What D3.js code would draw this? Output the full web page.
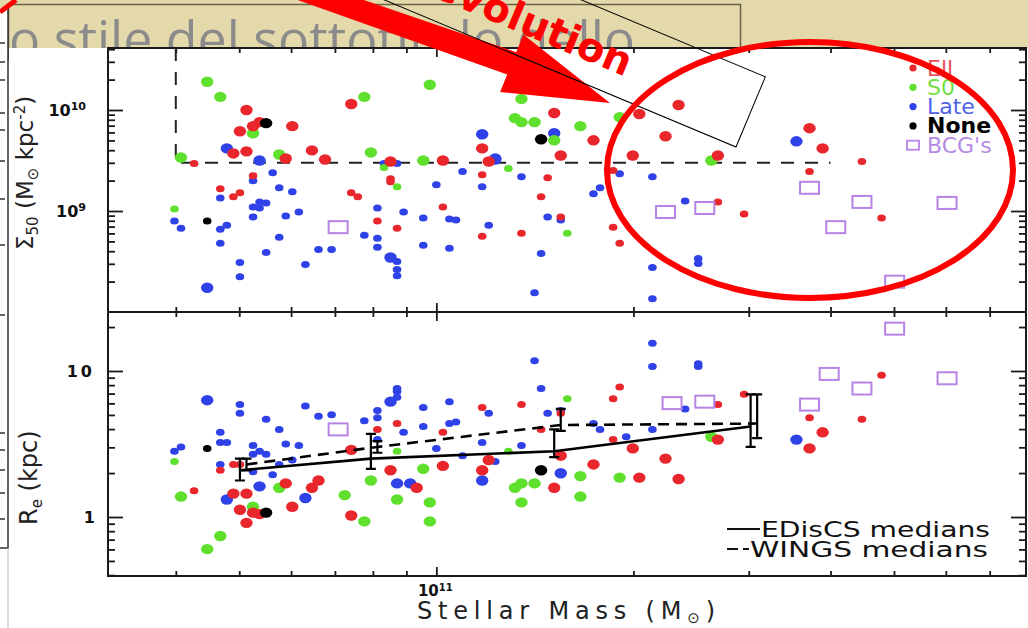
<!DOCTYPE html>
<html>
<head>
<meta charset="utf-8">
<script src="https://cdn.jsdelivr.net/npm/d3@7"></script>
<style>
body { margin: 0; background: #fff; }
svg { display: block; }
text { font-family: "DejaVu Sans", sans-serif; }
</style>
</head>
<body>
<div id="chart-area"></div>
<script>
// values, as log10: [log M*, log value, dense-sample flag]
var sigmaEll = [[10.71,10.00,1],[10.73,9.88,1],[10.72,9.84,1],[10.70,9.79,1],[10.78,9.84,1],[10.69,9.57,1],[10.71,9.59,1],
    [10.77,9.52,1],[10.81,9.60,1],[10.83,9.51,1],[10.93,9.49,1],[11.01,9.50,1],[11.08,9.49,1],[10.87,10.06,1],[11.18,9.97,1],
    [11.07,9.62,1],[11.24,9.70,1],[11.19,9.55,1],[11.31,9.96,1],[11.37,10.05,1],[11.35,9.74,1],[11.30,9.55,1],[11.43,9.55,1],
    [11.57,9.82,1],[11.59,9.62,1],
    [10.63,9.47,0],[11.65,9.49,0],[10.72,9.35,0],[10.67,9.22,0],[10.69,9.14,0],[10.70,9.18,0],[10.87,9.18,0],[10.88,9.14,0],
    [10.91,8.90,0],[10.94,8.83,0],[10.93,9.29,0],[10.93,9.32,0],[11.01,9.04,0],[11.07,8.75,0],[11.07,9.36,0],[11.17,9.33,0],
    [11.27,9.40,0],[11.16,9.14,0],[11.19,8.94,0],[11.13,8.78,0],[11.27,8.84,0],[11.28,8.68,0],[11.43,9.09,0],[11.47,8.97,0],
    [11.57,9.39,0],[11.68,8.93,0]];
var sigmaS0 = [[10.65,10.28,1],[10.67,10.13,1],[10.72,9.77,1],[10.76,9.56,1],[10.61,9.53,1],[10.90,9.58,1],[10.98,9.50,1],
    [10.89,10.13,1],[11.13,10.11,1],[11.12,9.92,1],[11.13,9.88,1],[11.15,9.88,1],[11.22,9.84,1],[11.18,9.70,1],[11.28,9.93,1],
    [11.42,9.50,1],[10.99,10.25,1],
    [10.92,9.43,0],[10.94,9.24,0],[10.60,9.02,0],[11.11,9.42,0],[11.20,8.78,0]];
var sigmaLate = [[10.68,9.62,1],[10.73,9.50,1],[11.09,9.52,1],[11.07,9.76,1],[11.18,9.77,1],[11.09,9.51,1],[11.55,9.69,1],
    [10.65,8.24,1],[10.93,8.54,1],
    [10.92,9.47,0],[10.94,9.47,0],[10.72,9.30,0],[10.75,9.38,0],[10.67,9.13,0],[10.76,9.23,0],[10.78,9.19,0],[10.72,9.04,0],
    [10.73,9.09,0],[10.74,9.08,0],[10.73,9.03,0],[10.72,8.94,0],[10.77,8.95,0],[10.79,8.99,0],[10.60,8.90,0],[10.61,8.83,0],
    [10.67,8.82,0],[10.68,8.86,0],[10.67,8.68,0],[10.76,8.74,0],[10.74,8.59,0],[10.70,8.49,0],[10.70,8.35,0],[10.91,9.03,0],
    [10.89,8.76,0],[10.91,8.73,0],[10.91,8.64,0],[10.82,8.62,0],[10.84,8.62,0],[10.80,8.47,0],[10.94,8.50,0],[10.94,8.42,0],
    [10.94,8.36,0],[11.00,9.26,0],[10.95,8.99,0],[10.98,8.93,0],[11.02,8.92,0],[11.03,8.91,0],[10.98,8.66,0],[11.02,8.63,0],
    [11.04,9.39,0],[11.07,9.24,0],[11.08,8.86,0],[11.13,9.34,0],[11.28,9.37,0],[11.33,9.34,0],[11.25,9.23,0],[11.24,9.17,0],
    [11.19,8.91,0],[11.17,8.94,0],[11.16,8.58,0],[11.38,9.10,0],[11.40,8.53,0],[11.40,8.48,0],[11.33,8.44,0],[11.15,8.19,0],
    [11.33,8.13,0]];
var sigmaNone = [[10.74,9.87,1],[11.16,9.71,1],[10.65,8.90,0]];
var sigmaBCG = [[10.85,8.84],[11.35,8.99],[11.41,9.03],[11.57,9.23],[11.65,9.09],[11.78,9.08],[11.61,8.84],[11.70,8.30]];

var reEll = [[10.69,0.36,0],[10.67,0.32,0],[10.70,0.36,0],[10.94,0.64,0],[10.91,0.60,0],[11.01,0.58,0],[11.07,0.75,0],
    [10.63,0.18,0],[11.28,0.89,0],[11.27,0.81,0],[11.13,0.77,0],[11.47,0.84,0],[11.43,0.77,0],[11.19,0.71,0],[11.16,0.60,0],
    [11.27,0.53,0],[11.68,0.97,0],[11.57,0.68,0],[11.65,0.67,0],
    [10.69,0.16,1],[10.71,0.16,1],[10.77,0.23,1],[10.81,0.20,1],[10.82,0.25,1],[10.70,0.05,1],[10.72,0.03,1],[10.73,0.02,1],
    [10.71,-0.04,1],[10.78,0.07,1],[10.87,0.01,1],[10.87,0.46,1],[10.97,0.20,1],[10.93,0.32,1],[11.01,0.35,1],[11.07,0.32,1],
    [11.08,0.39,1],[11.30,0.47,1],[11.35,0.40,1],[11.43,0.53,1],[11.19,0.42,1],[11.24,0.36,1],[11.31,0.27,1],[11.37,0.26,1],
    [11.18,0.20,1],[11.59,0.58,1],[11.57,0.47,1]];
var reS0 = [[10.60,0.38,0],[10.94,0.45,0],[11.20,0.81,0],[11.11,0.45,0],
    [10.61,0.14,1],[10.76,0.20,1],[10.86,0.15,1],[10.72,0.07,1],[10.67,-0.13,1],[10.65,-0.22,1],[10.89,-0.03,1],[10.90,0.25,1],
    [10.98,0.33,1],[10.94,0.12,1],[10.99,0.10,1],[10.99,-0.03,1],[11.42,0.55,1],[11.28,0.27,1],[11.22,0.28,1],[11.15,0.23,1],
    [11.13,0.23,1],[11.12,0.20,1],[11.13,0.10,1],[11.22,0.14,1]];
var reLate = [[10.70,0.77,0],[10.70,0.71,0],[10.74,0.67,0],[10.76,0.60,0],[10.67,0.58,0],[10.67,0.51,0],[10.68,0.51,0],
    [10.61,0.48,0],[10.60,0.45,0],[10.72,0.49,0],[10.72,0.43,0],[10.73,0.45,0],[10.74,0.43,0],[10.77,0.50,0],[10.79,0.49,0],
    [10.78,0.39,0],[10.67,0.36,0],[10.72,0.31,0],[10.75,0.29,0],[10.76,0.36,0],[10.80,0.76,0],[10.82,0.69,0],[10.84,0.70,0],
    [10.89,0.66,0],[10.91,0.68,0],[10.91,0.73,0],[10.94,0.82,0],[10.94,0.86,0],[10.94,0.88,0],[10.95,0.58,0],[10.91,0.53,0],
    [10.98,0.75,0],[10.98,0.62,0],[11.02,0.79,0],[11.02,0.64,0],[11.03,0.65,0],[11.00,0.47,0],[11.08,0.71,0],[11.07,0.51,0],
    [11.04,0.42,0],[11.09,0.38,0],[11.33,1.19,0],[11.33,1.03,0],[11.15,1.07,0],[11.40,1.05,0],[11.40,1.03,0],[11.16,0.88,0],
    [11.19,0.73,0],[11.17,0.71,0],[11.38,0.74,0],[11.24,0.64,0],[11.25,0.60,0],[11.33,0.60,0],[11.29,0.55,0],[11.13,0.49,0],
    [10.65,0.80,1],[10.93,0.79,1],[10.68,0.12,1],[10.73,0.21,1],[10.80,0.13,1],[10.94,0.23,1],[10.96,0.23,1],[11.07,0.25,1],
    [11.19,0.30,1],[11.55,0.53,1]];
var reNone = [[10.65,0.47,0],[10.74,0.03,1],[11.16,0.32,1]];
var reBCG = [[10.85,0.60],[11.36,0.78],[11.41,0.79],[11.57,0.77],[11.60,0.98],[11.70,1.29],[11.78,0.95],[11.65,0.88]];

// medians: [log M*, log Re, low, high]
var medEDisCS = [[10.70,0.32,0.25,0.40],[10.90,0.40,0.33,0.57],[11.18,0.45,0.41,0.60],[11.48,0.62,0.48,0.84]];
var medWINGS = [[10.71,0.36,0.32,0.40],[10.91,0.48,0.44,0.52],[11.19,0.63,0.59,0.74],[11.49,0.64,0.54,0.84]];

// selection box of the top panel
var boxMass = [4e10, 4e11], boxSigma = 3e9;

var massMinor = [4e10,5e10,6e10,7e10,8e10,9e10,2e11,3e11,4e11,5e11,6e11,7e11], massMajor = [1e11];
var sigmaMinor = [2e8,3e8,4e8,5e8,6e8,7e8,8e8,9e8,2e9,3e9,4e9,5e9,6e9,7e9,8e9,9e9,2e10,3e10,4e10], sigmaMajor = [1e9,1e10];
var reMinor = [0.4,0.5,0.6,0.7,0.8,0.9,2,3,4,5,6,7,8,9,20], reMajor = [1,10];
var sigmaLabels = [[1e9,"9"],[1e10,"10"]], reLabels = [[1,"1"],[10,"10"]], massLabels = [[1e11,"11"]];

var legendTop = [["Ell","E"],["S0","S0"],["Late","L"],["None","N"],["BCG's","B"]];
var legendBottom = ["EDisCS medians", "WINGS medians"];

var colors = {E: "#e8262c", S0: "#5ee02c", L: "#2f42e8", N: "#000000", B: "#b783e6"};
var textColors = {E: "#e6505a", S0: "#72e040", L: "#5062e6", N: "#000000", B: "#b58ae6"};

var width = 1028, height = 628;
var left = 108, right = 1026, top1 = 48, mid = 312, bottom = 576;
var p10 = function(v) { return Math.pow(10, v); };

var svg = d3.select("#chart-area").append("svg")
    .attr("width", width)
    .attr("height", height);

var x = d3.scaleLog().domain([p10(10.4985), p10(11.9006)]).range([left, right]);
var ySigma = d3.scaleLog().domain([1e8, p10(10.614)]).range([mid, top1]);
var yRe = d3.scaleLog().domain([p10(-0.404), p10(1.404)]).range([bottom, mid]);

// slide background and title box
svg.append("rect").attr("width", width).attr("height", 48).attr("fill", "#e3d9ab");
svg.append("text")
    .attr("x", 9).attr("y", 58)
    .style("font-family", "'Open Sans', sans-serif")
    .style("font-size", "51px")
    .attr("textLength", 626).attr("lengthAdjust", "spacingAndGlyphs")
    .attr("fill", "#8b8b8b")
    .text("o stile del sottotitolo dello");
svg.append("path")
    .attr("d", "M8.5,60 V4.5 H740.5 V48")
    .attr("fill", "none").attr("stroke", "#6b6245").attr("stroke-width", 1.5);

// figure behind, on the left edge
svg.append("rect").attr("x", 0).attr("y", 8).attr("width", 8).attr("height", 620).attr("fill", "#fff");
svg.append("path").attr("d", "M8,8 V548 H0").attr("fill", "none").attr("stroke", "#333").attr("stroke-width", 1.5);
svg.append("path").attr("d", "M8,548 V628").attr("fill", "none").attr("stroke", "#bbb").attr("stroke-width", 1);
[43,62,80,113,130,161,199,245,315,433,450,470,493,519].forEach(function(t) {
    svg.append("line").attr("x1", 0).attr("x2", 5).attr("y1", t).attr("y2", t).attr("stroke", "#333").attr("stroke-width", 1.5);
});

// the figure
svg.append("rect").attr("x", 9).attr("y", 48).attr("width", width - 9).attr("height", height - 48).attr("fill", "#fff");

var plot = svg.append("g");

function panelAxes(yScale, y0, y1, yMinor, yMajor) {
    var ax = plot.append("g").attr("class", "axes");
    var bits = [
        [d3.axisBottom(x).tickValues(massMinor).tickSize(-5), "translate(0," + y1 + ")"],
        [d3.axisBottom(x).tickValues(massMajor).tickSize(-9), "translate(0," + y1 + ")"],
        [d3.axisTop(x).tickValues(massMinor).tickSize(-5), "translate(0," + y0 + ")"],
        [d3.axisTop(x).tickValues(massMajor).tickSize(-9), "translate(0," + y0 + ")"],
        [d3.axisLeft(yScale).tickValues(yMinor).tickSize(-7), "translate(" + left + ",0)"],
        [d3.axisLeft(yScale).tickValues(yMajor).tickSize(-15), "translate(" + left + ",0)"],
        [d3.axisRight(yScale).tickValues(yMinor).tickSize(-7), "translate(" + right + ",0)"],
        [d3.axisRight(yScale).tickValues(yMajor).tickSize(-15), "translate(" + right + ",0)"]
    ];
    bits.forEach(function(b) {
        ax.append("g").attr("transform", b[1])
            .call(b[0].tickFormat("").tickSizeOuter(0))
            .call(function(g) { g.select(".domain").remove(); })
            .selectAll("line").attr("stroke", "#1a1a1a").attr("stroke-width", 1.8);
    });
    ax.append("rect")
        .attr("x", left).attr("y", y0)
        .attr("width", right - left).attr("height", y1 - y0)
        .attr("fill", "none").attr("stroke", "#1a1a1a").attr("stroke-width", 2);
}

function yLabels(yScale, labels) {
    labels.forEach(function(l) {
        var t = plot.append("text")
            .attr("x", l[0] > 100 ? 86 : 95)
            .attr("y", yScale(l[0]) + 6)
            .attr("text-anchor", "end")
            .style("font-size", "16px")
            .style("font-weight", "bold")
            .attr("fill", "#111");
        if (l[0] > 100) {
            t.append("tspan").text("10");
            t.append("tspan").attr("dy", -6).style("font-size", "11px").text(l[1]);
        } else {
            t.attr("letter-spacing", l[1].length > 1 ? 3 : 0).text(l[1]);
        }
    });
}

function dots(data, yScale, type) {
    plot.append("g").selectAll("ellipse")
        .data(data)
        .join("ellipse")
        .attr("cx", function(d) { return x(p10(d[0])); })
        .attr("cy", function(d) { return yScale(p10(d[1])); })
        .attr("rx", function(d) { return d[2] ? 6.2 : 4.3; })
        .attr("ry", function(d) { return d[2] ? 5.2 : 3.5; })
        .attr("fill", colors[type]);
}

function bcg(data, yScale) {
    plot.append("g").selectAll("rect")
        .data(data)
        .join("rect")
        .attr("x", function(d) { return x(p10(d[0])) - 9.5; })
        .attr("y", function(d) { return yScale(p10(d[1])) - 6; })
        .attr("width", 19).attr("height", 12)
        .attr("fill", "none")
        .attr("stroke", colors.B).attr("stroke-width", 2);
}

// top panel
panelAxes(ySigma, top1, mid, sigmaMinor, sigmaMajor);
yLabels(ySigma, sigmaLabels);
plot.append("path")
    .attr("d", d3.line()([[x(boxMass[0]), top1], [x(boxMass[0]), ySigma(boxSigma)], [x(boxMass[1]), ySigma(boxSigma)]]))
    .attr("fill", "none").attr("stroke", "#222").attr("stroke-width", 2).attr("stroke-dasharray", "13,11");
dots(sigmaLate, ySigma, "L");
dots(sigmaS0, ySigma, "S0");
dots(sigmaEll, ySigma, "E");
dots(sigmaNone, ySigma, "N");
bcg(sigmaBCG, ySigma);

// bottom panel
panelAxes(yRe, mid, bottom, reMinor, reMajor);
yLabels(yRe, reLabels);
dots(reLate, yRe, "L");
dots(reS0, yRe, "S0");
dots(reEll, yRe, "E");
dots(reNone, yRe, "N");
bcg(reBCG, yRe);

function medians(data, dash) {
    var g = plot.append("g");
    g.append("path")
        .attr("d", d3.line()(data.map(function(d) { return [x(p10(d[0])), yRe(p10(d[1]))]; })))
        .attr("fill", "none").attr("stroke", "#000").attr("stroke-width", 2.6)
        .attr("stroke-dasharray", dash);
    data.forEach(function(d) {
        var cx = x(p10(d[0])), lo = yRe(p10(d[2])), hi = yRe(p10(d[3]));
        g.append("path")
            .attr("d", "M" + (cx - 5) + "," + hi + "H" + (cx + 5) + "M" + cx + "," + hi + "V" + lo + "M" + (cx - 5) + "," + lo + "H" + (cx + 5))
            .attr("fill", "none").attr("stroke", "#000").attr("stroke-width", 2.2);
    });
}
medians(medEDisCS, null);
medians(medWINGS, "11,7");

// x labels
massLabels.forEach(function(l) {
    var t = plot.append("text").attr("x", x(l[0]) - 1).attr("y", 596).attr("text-anchor", "middle")
        .style("font-size", "15px").style("font-weight", "bold").attr("fill", "#111");
    t.append("tspan").text("10");
    t.append("tspan").attr("dy", -5).style("font-size", "10px").text(l[1]);
});
var xl = plot.append("text").attr("x", 417).attr("y", 619)
    .attr("textLength", 298).attr("lengthAdjust", "spacing")
    .style("font-size", "24px").attr("fill", "#222");
xl.append("tspan").text("Stellar Mass (M");
xl.append("tspan").attr("dy", 4).style("font-size", "15px").text("\u2299");
xl.append("tspan").attr("dy", -4).text(")");

// y titles
var ys = plot.append("text").attr("transform", "translate(33,250) rotate(-90)")
    .style("font-size", "23px").attr("fill", "#222");
ys.append("tspan").text("\u03A3");
ys.append("tspan").attr("dy", 5).style("font-size", "15px").text("50");
ys.append("tspan").attr("dy", -5).text(" (M");
ys.append("tspan").attr("dy", 5).style("font-size", "15px").text("\u2299");
ys.append("tspan").attr("dy", -5).text(" kpc");
ys.append("tspan").attr("dy", -8).style("font-size", "15px").text("-2");
ys.append("tspan").attr("dy", 8).text(")");

var yr = plot.append("text").attr("transform", "translate(37,525) rotate(-90)")
    .style("font-size", "24px").attr("fill", "#222");
yr.append("tspan").text("R");
yr.append("tspan").attr("dy", 5).style("font-size", "15px").text("e");
yr.append("tspan").attr("dy", -5).text(" (kpc)");

// legends
legendTop.forEach(function(l, i) {
    var cy = 68 + i * 19.3;
    if (l[1] === "B") {
        plot.append("rect").attr("x", 907).attr("y", cy - 4.5).attr("width", 12).attr("height", 9)
            .attr("fill", "none").attr("stroke", colors.B).attr("stroke-width", 1.8);
    } else {
        plot.append("circle").attr("cx", 913).attr("cy", cy).attr("r", 3.6).attr("fill", colors[l[1]]);
    }
    plot.append("text").attr("x", 927).attr("y", cy + 7.5)
        .style("font-size", "22px")
        .style("font-weight", l[1] === "N" ? "bold" : "normal")
        .attr("fill", textColors[l[1]]).text(l[0]);
});
plot.append("line").attr("x1", 727).attr("x2", 760).attr("y1", 529).attr("y2", 529).attr("stroke", "#111").attr("stroke-width", 2);
plot.append("path").attr("d", "M727,549H738M743,549H749").attr("stroke", "#111").attr("stroke-width", 2);
plot.append("text").attr("x", 761).attr("y", 537).attr("textLength", 229).attr("lengthAdjust", "spacingAndGlyphs")
    .style("font-size", "22px").attr("fill", "#111").text(legendBottom[0]);
plot.append("text").attr("x", 750).attr("y", 557).attr("textLength", 238).attr("lengthAdjust", "spacingAndGlyphs")
    .style("font-size", "22px").attr("fill", "#111").text(legendBottom[1]);

// slide annotations drawn over the figure
var tip = [610, 103], ang = 22 * Math.PI / 180;
var u = [Math.cos(ang), Math.sin(ang)], n = [-Math.sin(ang), Math.cos(ang)];
var headLen = 106, headW = 31, shaftW = 12;
function pt(a, b) { return [tip[0] - a * u[0] + b * n[0], tip[1] - a * u[1] + b * n[1]]; }
svg.append("path")
    .attr("d", d3.line()([tip, pt(headLen, headW), pt(headLen, shaftW), [292, -2], [358, -2], pt(headLen, -shaftW), pt(headLen, -headW)]) + "Z")
    .attr("fill", "#ff0000");

var box = svg.append("g").attr("transform", "translate(736,147) rotate(22.7)");
box.append("rect").attr("x", -760).attr("y", -76).attr("width", 760).attr("height", 76)
    .attr("fill", "none").attr("stroke", "#000").attr("stroke-width", 1);
box.append("text").attr("x", -235).attr("y", -22).attr("text-anchor", "middle")
    .style("font-size", "40px").style("font-weight", "bold").attr("fill", "#ff0000")
    .text("evolution");

svg.append("ellipse").attr("cx", 810).attr("cy", 170).attr("rx", 203).attr("ry", 128)
    .attr("fill", "none").attr("stroke", "#ff0000").attr("stroke-width", 6);
svg.append("path").attr("d", "M0,12 Q8,6 16,0").attr("fill", "none").attr("stroke", "#ff0000").attr("stroke-width", 5);
</script>
</body>
</html>
